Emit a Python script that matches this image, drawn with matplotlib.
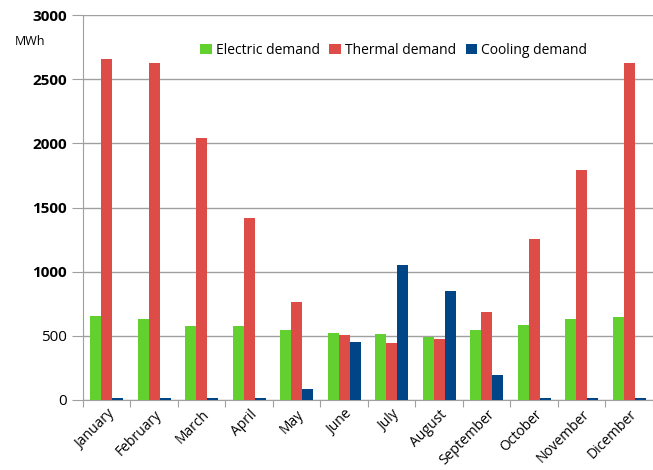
import matplotlib.pyplot as plt
import numpy as np

months = ['January', 'February', 'March', 'April', 'May', 'June', 'July',
          'August', 'September', 'October', 'November', 'Dicember']
electric = [655, 631, 574, 575, 545, 522, 512, 488, 545, 584, 631, 647]
thermal = [2660, 2625, 2040, 1415, 763, 504, 442, 478, 686, 1255, 1795, 2625]
cooling = [12, 12, 12, 12, 83, 455, 1052, 850, 192, 12, 12, 12]

plt.rcParams['font.family'] = ['Open Sans', 'DejaVu Sans']

fig = plt.figure(figsize=(6.53, 4.70), dpi=100)
ax = fig.add_axes([0.127, 0.149, 0.873, 0.819])

x = np.arange(len(months))
w = 0.23
ax.bar(x - w, electric, w, color='#62D130', label='Electric demand', zorder=3)
ax.bar(x, thermal, w, color='#DE4C48', label='Thermal demand', zorder=3)
ax.bar(x + w, cooling, w, color='#004586', label='Cooling demand', zorder=3)

ax.set_xlim(-0.5, len(months) - 0.5)
ax.set_ylim(0, 3000)
ax.set_yticks(range(0, 3001, 500))
ax.yaxis.grid(True, color='#a0a0a0', linewidth=1, zorder=0)
for s in ['top', 'right']:
    ax.spines[s].set_visible(False)
ax.spines['left'].set_color('#a0a0a0')
ax.spines['bottom'].set_color('#a0a0a0')

# ticks between categories, labels at centres
ax.set_xticks(np.arange(-0.5, len(months), 1))
ax.set_xticklabels([])
ax.set_xticks(x, minor=True)
ax.set_xticklabels(months, minor=True, rotation=45, ha='right',
                   rotation_mode='anchor', fontsize=10)
ax.tick_params(axis='x', which='major', length=5, color='#a0a0a0')
ax.tick_params(axis='x', which='minor', length=0, pad=5)
ax.tick_params(axis='y', length=8, color='#a0a0a0', labelsize=11)
for lab in ax.get_yticklabels():
    if lab.get_text() not in ('0', '500'):
        lab.set_fontweight('bold')

fig.text(0.022, 0.905, 'MWh', fontsize=9)

ax.legend(loc='upper center', bbox_to_anchor=(0.545, 0.96), ncol=3,
          frameon=False, fontsize=10, handlelength=0.8, handleheight=0.8,
          handletextpad=0.3, columnspacing=0.7)

fig.savefig('out.png', dpi=100)
